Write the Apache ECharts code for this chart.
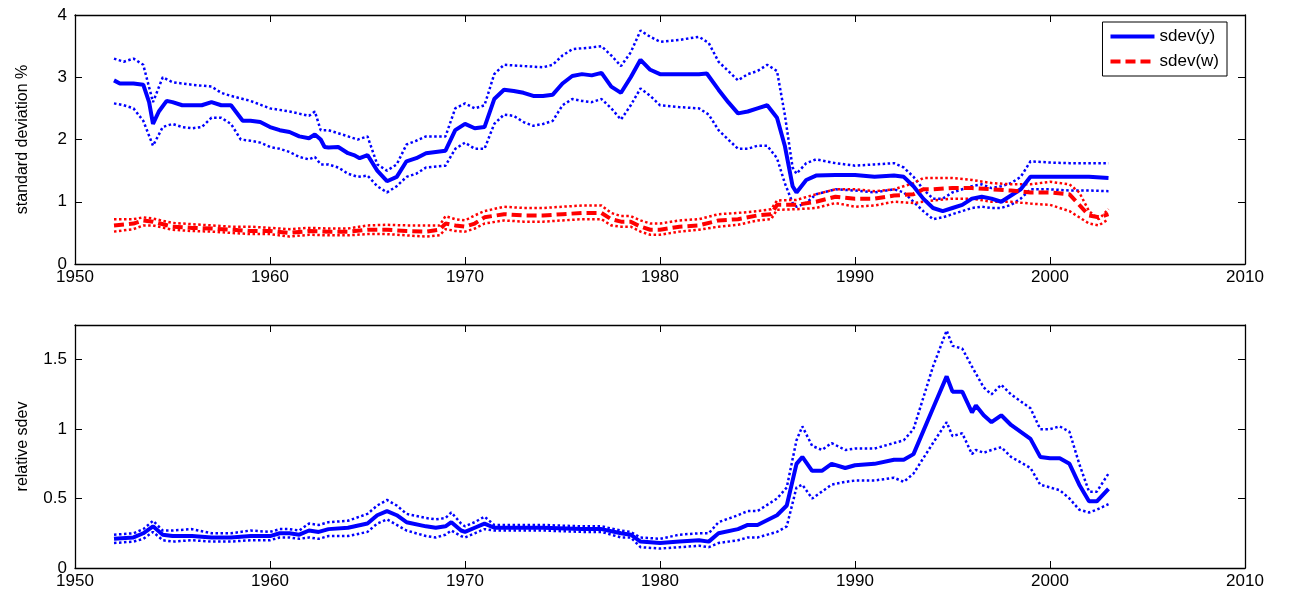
<!DOCTYPE html>
<html><head><meta charset="utf-8">
<script src="https://cdn.jsdelivr.net/npm/echarts@6/dist/echarts.min.js"></script>
<style>html,body{margin:0;padding:0;background:#fff}#c{width:1290px;height:599px}</style>
</head><body><div id="c"></div>
<script>
const xTicks=[1950,1960,1970,1980,1990,2000,2010];
const sdevY=[[1952,2.95],[1952.3,2.9],[1953,2.9],[1953.5,2.88],[1953.8,2.6],[1954,2.25],[1954.3,2.45],[1954.7,2.62],[1955,2.6],[1955.5,2.55],[1956,2.55],[1956.5,2.55],[1957,2.6],[1957.5,2.55],[1958,2.55],[1958.6,2.3],[1959,2.3],[1959.5,2.28],[1960,2.2],[1960.5,2.15],[1961,2.12],[1961.5,2.05],[1962,2.02],[1962.3,2.08],[1962.6,2.0],[1962.8,1.88],[1963,1.87],[1963.5,1.88],[1964,1.78],[1964.3,1.75],[1964.6,1.7],[1965,1.75],[1965.5,1.5],[1966,1.33],[1966.5,1.4],[1967,1.65],[1967.5,1.7],[1968,1.78],[1968.5,1.8],[1969,1.82],[1969.5,2.15],[1970,2.25],[1970.5,2.18],[1971,2.2],[1971.5,2.65],[1972,2.8],[1972.5,2.78],[1973,2.75],[1973.5,2.7],[1974,2.7],[1974.5,2.72],[1975,2.9],[1975.5,3.02],[1976,3.05],[1976.5,3.03],[1977,3.07],[1977.5,2.85],[1978,2.75],[1978.5,3.0],[1979,3.28],[1979.5,3.12],[1980,3.05],[1980.5,3.05],[1981,3.05],[1982,3.05],[1982.4,3.06],[1983,2.8],[1983.5,2.6],[1984,2.42],[1984.5,2.45],[1985,2.5],[1985.5,2.55],[1986,2.35],[1986.4,1.9],[1986.8,1.25],[1987,1.15],[1987.5,1.35],[1988,1.42],[1989,1.43],[1990,1.43],[1991,1.40],[1992,1.42],[1992.5,1.4],[1993,1.25],[1993.5,1.05],[1994,0.9],[1994.5,0.85],[1995,0.9],[1995.5,0.95],[1996,1.05],[1996.5,1.08],[1997,1.05],[1997.5,1.0],[1998,1.1],[1998.5,1.2],[1999,1.4],[2000,1.4],[2001,1.4],[2002,1.4],[2003,1.38]];
const sdevYUp=[[1952,3.3],[1952.5,3.25],[1953,3.3],[1953.5,3.2],[1954,2.6],[1954.5,3.0],[1955,2.92],[1956,2.88],[1957,2.85],[1957.5,2.75],[1958,2.7],[1959,2.62],[1960,2.5],[1961,2.45],[1962,2.38],[1962.3,2.45],[1962.6,2.15],[1963,2.15],[1963.5,2.1],[1964,2.05],[1964.5,2.0],[1965,2.05],[1965.5,1.6],[1966,1.5],[1966.5,1.6],[1967,1.92],[1967.5,1.98],[1968,2.05],[1969,2.05],[1969.5,2.5],[1970,2.58],[1970.5,2.5],[1971,2.55],[1971.5,3.05],[1972,3.2],[1973,3.18],[1974,3.16],[1974.5,3.2],[1975,3.35],[1975.5,3.45],[1976.5,3.48],[1977,3.5],[1977.5,3.35],[1978,3.18],[1978.5,3.4],[1979,3.75],[1979.5,3.65],[1980,3.57],[1981,3.6],[1982,3.65],[1982.5,3.55],[1983,3.25],[1983.5,3.1],[1984,2.95],[1984.5,3.05],[1985,3.1],[1985.5,3.2],[1986,3.1],[1986.4,2.4],[1986.8,1.55],[1987,1.45],[1987.5,1.62],[1988,1.68],[1989,1.62],[1990,1.58],[1991,1.6],[1992,1.62],[1992.5,1.55],[1993,1.4],[1993.5,1.2],[1994,1.05],[1994.5,1.05],[1995,1.15],[1995.5,1.2],[1996,1.25],[1996.5,1.28],[1997,1.22],[1997.5,1.25],[1998,1.3],[1998.5,1.4],[1999,1.65],[2000,1.63],[2001,1.62],[2002,1.62],[2003,1.62]];
const sdevYLo=[[1952,2.58],[1952.5,2.55],[1953,2.5],[1953.5,2.3],[1954,1.9],[1954.5,2.2],[1955,2.25],[1955.5,2.2],[1956,2.18],[1956.5,2.2],[1957,2.35],[1957.5,2.35],[1958,2.25],[1958.5,2.0],[1959,1.98],[1959.5,1.95],[1960,1.88],[1960.5,1.85],[1961,1.8],[1961.5,1.72],[1962,1.68],[1962.3,1.72],[1962.6,1.6],[1963,1.6],[1963.5,1.55],[1964,1.45],[1964.5,1.4],[1965,1.42],[1965.5,1.25],[1966,1.15],[1966.5,1.25],[1967,1.4],[1967.5,1.45],[1968,1.55],[1969,1.58],[1969.5,1.85],[1970,1.95],[1970.5,1.85],[1971,1.85],[1971.5,2.25],[1972,2.4],[1972.5,2.38],[1973,2.28],[1973.5,2.22],[1974,2.25],[1974.5,2.3],[1975,2.55],[1975.5,2.65],[1976,2.62],[1976.5,2.6],[1977,2.65],[1977.5,2.5],[1978,2.32],[1978.5,2.55],[1979,2.82],[1979.5,2.7],[1980,2.55],[1981,2.52],[1982,2.5],[1982.5,2.4],[1983,2.15],[1983.5,2.0],[1984,1.85],[1984.5,1.85],[1985,1.9],[1985.5,1.9],[1986,1.7],[1986.4,1.3],[1986.8,0.98],[1987,0.92],[1987.5,0.98],[1988,1.12],[1989,1.2],[1990,1.18],[1991,1.15],[1992,1.2],[1992.5,1.15],[1993,1.0],[1993.5,0.85],[1994,0.72],[1994.5,0.75],[1995,0.8],[1995.5,0.85],[1996,0.9],[1996.5,0.92],[1997,0.9],[1997.5,0.9],[1998,0.95],[1998.5,1.05],[1999,1.2],[2000,1.2],[2001,1.18],[2002,1.18],[2003,1.17]];
const sdevW=[[1952,0.62],[1953,0.65],[1953.5,0.7],[1954,0.68],[1955,0.6],[1956,0.58],[1957,0.57],[1958,0.55],[1959,0.53],[1960,0.53],[1961,0.5],[1962,0.53],[1963,0.52],[1964,0.52],[1965,0.55],[1966,0.55],[1967,0.53],[1968,0.52],[1968.7,0.55],[1969,0.65],[1969.5,0.62],[1970,0.6],[1970.5,0.65],[1971,0.75],[1972,0.8],[1973,0.78],[1974,0.78],[1975,0.8],[1976,0.82],[1977,0.82],[1977.5,0.72],[1978,0.68],[1978.5,0.68],[1979,0.6],[1979.5,0.55],[1980,0.55],[1981,0.6],[1982,0.62],[1983,0.7],[1984,0.72],[1985,0.78],[1985.7,0.8],[1986,0.95],[1987,0.95],[1988,1.0],[1989,1.08],[1990,1.05],[1991,1.05],[1992,1.1],[1993,1.12],[1993.5,1.2],[1994,1.2],[1995,1.22],[1996,1.22],[1997,1.2],[1998,1.18],[1999,1.15],[2000,1.15],[2001,1.12],[2001.5,0.95],[2002,0.78],[2002.5,0.75],[2003,0.8]];
const sdevWUp=[[1952,0.72],[1953,0.72],[1953.5,0.75],[1954,0.73],[1955,0.66],[1956,0.64],[1957,0.62],[1958,0.6],[1959,0.6],[1960,0.58],[1961,0.56],[1962,0.58],[1963,0.57],[1964,0.57],[1965,0.62],[1966,0.63],[1967,0.62],[1968,0.62],[1968.7,0.62],[1969,0.77],[1969.5,0.72],[1970,0.7],[1970.5,0.78],[1971,0.85],[1972,0.92],[1973,0.9],[1974,0.9],[1975,0.92],[1976,0.94],[1977,0.94],[1977.5,0.82],[1978,0.77],[1978.5,0.77],[1979,0.7],[1979.5,0.65],[1980,0.65],[1981,0.7],[1982,0.72],[1983,0.8],[1984,0.82],[1985,0.85],[1985.7,0.88],[1986,1.02],[1987,1.03],[1988,1.12],[1989,1.2],[1990,1.2],[1991,1.17],[1992,1.2],[1993,1.3],[1993.5,1.38],[1994,1.38],[1995,1.38],[1996,1.35],[1997,1.3],[1998,1.28],[1999,1.28],[2000,1.32],[2001,1.28],[2001.5,1.15],[2002,0.85],[2002.5,0.72],[2003,0.88]];
const sdevWLo=[[1952,0.52],[1953,0.56],[1953.5,0.62],[1954,0.62],[1955,0.55],[1956,0.53],[1957,0.52],[1958,0.5],[1959,0.48],[1960,0.48],[1961,0.44],[1962,0.47],[1963,0.46],[1964,0.46],[1965,0.48],[1966,0.48],[1967,0.46],[1968,0.44],[1968.7,0.46],[1969,0.56],[1969.5,0.53],[1970,0.52],[1970.5,0.57],[1971,0.65],[1972,0.7],[1973,0.68],[1974,0.68],[1975,0.7],[1976,0.72],[1977,0.72],[1977.5,0.62],[1978,0.6],[1978.5,0.6],[1979,0.52],[1979.5,0.47],[1980,0.47],[1981,0.52],[1982,0.55],[1983,0.6],[1984,0.63],[1985,0.7],[1985.7,0.72],[1986,0.87],[1987,0.88],[1988,0.9],[1989,0.98],[1990,0.92],[1991,0.94],[1992,1.0],[1993,0.98],[1993.5,1.0],[1994,1.02],[1995,1.05],[1996,1.05],[1997,1.0],[1998,1.0],[1999,0.97],[2000,0.95],[2001,0.85],[2001.5,0.75],[2002,0.65],[2002.5,0.62],[2003,0.72]];
const relSdev=[[1952,0.21],[1953,0.22],[1953.5,0.25],[1954,0.3],[1954.5,0.24],[1955,0.23],[1956,0.23],[1957,0.22],[1958,0.22],[1959,0.23],[1960,0.23],[1960.5,0.25],[1961,0.25],[1961.5,0.24],[1962,0.27],[1962.5,0.26],[1963,0.28],[1964,0.29],[1965,0.32],[1965.5,0.38],[1966,0.41],[1966.5,0.38],[1967,0.33],[1968,0.3],[1968.5,0.29],[1969,0.3],[1969.3,0.33],[1969.8,0.27],[1970,0.26],[1970.5,0.29],[1971,0.32],[1971.5,0.29],[1972,0.29],[1974,0.29],[1976,0.28],[1977,0.28],[1978,0.25],[1978.5,0.24],[1979,0.19],[1980,0.18],[1981,0.19],[1982,0.2],[1982.5,0.19],[1983,0.25],[1984,0.28],[1984.5,0.31],[1985,0.31],[1986,0.38],[1986.5,0.45],[1987,0.75],[1987.3,0.8],[1987.8,0.7],[1988.3,0.7],[1988.8,0.75],[1989.5,0.72],[1990,0.74],[1991,0.75],[1992,0.78],[1992.5,0.78],[1993,0.82],[1994,1.15],[1994.7,1.38],[1995,1.27],[1995.5,1.27],[1996,1.12],[1996.2,1.17],[1996.6,1.1],[1997,1.05],[1997.5,1.1],[1998,1.03],[1999,0.93],[1999.5,0.8],[2000,0.79],[2000.5,0.79],[2001,0.75],[2001.5,0.6],[2002,0.48],[2002.4,0.48],[2003,0.57]];
const relSdevUp=[[1952,0.24],[1953,0.25],[1953.5,0.28],[1954,0.34],[1954.5,0.27],[1955,0.27],[1956,0.28],[1957,0.25],[1958,0.25],[1959,0.27],[1960,0.26],[1960.5,0.28],[1961,0.28],[1961.5,0.27],[1962,0.32],[1962.5,0.31],[1963,0.33],[1964,0.34],[1965,0.39],[1965.5,0.45],[1966,0.49],[1966.5,0.45],[1967,0.39],[1968,0.36],[1968.5,0.35],[1969,0.36],[1969.3,0.4],[1969.8,0.32],[1970,0.3],[1970.5,0.33],[1971,0.37],[1971.5,0.31],[1972,0.31],[1974,0.31],[1976,0.3],[1977,0.3],[1978,0.27],[1978.5,0.26],[1979,0.22],[1980,0.21],[1981,0.24],[1982,0.25],[1982.5,0.25],[1983,0.33],[1984,0.38],[1984.5,0.41],[1985,0.41],[1986,0.5],[1986.5,0.58],[1987,0.92],[1987.3,1.02],[1987.8,0.88],[1988.3,0.85],[1988.8,0.9],[1989.5,0.85],[1990,0.86],[1991,0.86],[1992,0.9],[1992.5,0.92],[1993,1.0],[1994,1.45],[1994.7,1.71],[1995,1.6],[1995.5,1.58],[1996,1.45],[1996.6,1.3],[1997,1.25],[1997.5,1.32],[1998,1.25],[1999,1.15],[1999.5,1.0],[2000,1.0],[2000.5,1.02],[2001,0.98],[2001.5,0.75],[2002,0.55],[2002.4,0.55],[2003,0.68]];
const relSdevLo=[[1952,0.18],[1953,0.19],[1953.5,0.21],[1954,0.26],[1954.5,0.2],[1955,0.19],[1956,0.2],[1957,0.19],[1958,0.19],[1959,0.2],[1960,0.2],[1960.5,0.22],[1961,0.22],[1961.5,0.21],[1962,0.22],[1962.5,0.21],[1963,0.23],[1964,0.23],[1965,0.26],[1965.5,0.32],[1966,0.35],[1966.5,0.31],[1967,0.27],[1968,0.23],[1968.5,0.22],[1969,0.24],[1969.3,0.27],[1969.8,0.23],[1970,0.22],[1970.5,0.25],[1971,0.28],[1971.5,0.27],[1972,0.27],[1974,0.27],[1976,0.26],[1977,0.26],[1978,0.22],[1978.5,0.22],[1979,0.15],[1980,0.14],[1981,0.15],[1982,0.16],[1982.5,0.15],[1983,0.18],[1984,0.2],[1984.5,0.22],[1985,0.22],[1986,0.26],[1986.5,0.3],[1987,0.58],[1987.3,0.6],[1987.8,0.5],[1988.3,0.55],[1988.8,0.6],[1989.5,0.62],[1990,0.63],[1991,0.63],[1992,0.65],[1992.5,0.62],[1993,0.68],[1994,0.9],[1994.7,1.05],[1995,0.95],[1995.5,0.97],[1996,0.82],[1996.2,0.85],[1996.6,0.83],[1997,0.85],[1997.5,0.87],[1998,0.8],[1999,0.72],[1999.5,0.6],[2000,0.58],[2000.5,0.56],[2001,0.5],[2001.5,0.42],[2002,0.4],[2002.4,0.42],[2003,0.46]];

const F='Liberation Sans, Arial, sans-serif';
const lab={color:'#000',fontSize:17,fontFamily:F};
function xAx(gi,show){return {type:'value',gridIndex:gi,min:1950,max:2010,interval:10,position:show?'bottom':'top',
  axisLine:{show:true,onZero:false,lineStyle:{color:'#000',width:1.3}},axisTick:{show:true,inside:true,length:7,lineStyle:{color:'#000'}},
  axisLabel:{show:show,...lab,margin:5,formatter:v=>String(v)},splitLine:{show:false}};}
function yAx(gi,max,iv,show,name){return {type:'value',gridIndex:gi,min:0,max:max,interval:iv,position:show?'left':'right',
  name:show?name:'',nameLocation:'middle',nameGap:44,nameTextStyle:{color:'#000',fontSize:16,fontFamily:F},
  axisLine:{show:true,lineStyle:{color:'#000',width:1.3}},axisTick:{show:true,inside:true,length:7,lineStyle:{color:'#000'}},
  axisLabel:{show:show,...lab,margin:8,formatter:v=>(Math.abs(v/iv-Math.round(v/iv))<1e-6&&v<max-1e-6||v===max&&max%iv===0)?String(v):''},splitLine:{show:false}};}
function ln(name,data,color,type,w,xi,yi){return {name:name,type:'line',data:data,xAxisIndex:xi,yAxisIndex:yi,showSymbol:false,symbol:'none',
  lineStyle:{color:color,width:w,type:type},itemStyle:{color:color},animation:false,z:type==='dotted'?2:3};}
const chart=echarts.init(document.getElementById('c'));
chart.setOption({
  animation:false,
  grid:[{left:75,right:45,top:15,height:249},{left:75,right:45,top:325,height:243}],
  xAxis:[xAx(0,true),xAx(0,false),xAx(1,true),xAx(1,false)].map((a,i)=>({...a,gridIndex:i<2?0:1})),
  yAxis:[yAx(0,4,1,true,'standard deviation %'),yAx(0,4,1,false),yAx(1,1.75,0.5,true,'relative sdev'),yAx(1,1.75,0.5,false)].map((a,i)=>({...a,gridIndex:i<2?0:1})),
  legend:{show:true,right:63,top:22,orient:'vertical',itemWidth:44,itemHeight:14,itemGap:8,
    data:['sdev(y)','sdev(w)'],textStyle:{color:'#000',fontSize:17,fontFamily:F},itemStyle:{opacity:0},lineStyle:{width:4},
    backgroundColor:'#fff',borderColor:'#000',borderWidth:1,padding:[6,8,6,6]},
  series:[
    ln('sdev(y)',sdevY,'#0000ff','solid',4,0,0),
    ln('yUp',sdevYUp,'#0000ff','dotted',2.5,0,0),
    ln('yLo',sdevYLo,'#0000ff','dotted',2.5,0,0),
    ln('sdev(w)',sdevW,'#ff0000',[10,5],4,0,0),
    ln('wUp',sdevWUp,'#ff0000','dotted',2.5,0,0),
    ln('wLo',sdevWLo,'#ff0000','dotted',2.5,0,0),
    ln('rel',relSdev,'#0000ff','solid',4,2,2),
    ln('relUp',relSdevUp,'#0000ff','dotted',2.5,2,2),
    ln('relLo',relSdevLo,'#0000ff','dotted',2.5,2,2)
  ]
});
</script></body></html>
